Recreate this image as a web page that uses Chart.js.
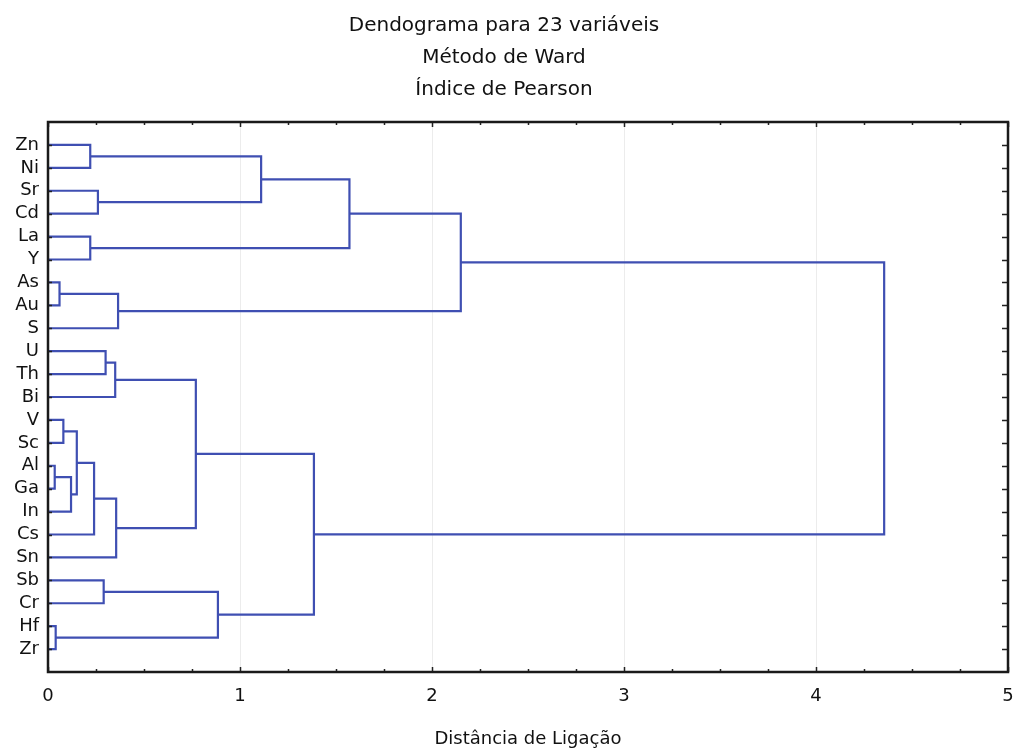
<!DOCTYPE html>
<html>
<head>
<meta charset="utf-8">
<script src="https://cdn.jsdelivr.net/npm/chart.js@4.4.1/dist/chart.umd.min.js"></script>
<style>
  html, body { margin: 0; padding: 0; background: #fff; }
  #wrap { width: 1015px; height: 751px; }
</style>
</head>
<body>
<div id="wrap"><canvas id="dendro"></canvas></div>
<script>
// leaves, top to bottom
const leaves = ['Zn', 'Ni', 'Sr', 'Cd', 'La', 'Y', 'As', 'Au', 'S', 'U', 'Th', 'Bi',
                'V', 'Sc', 'Al', 'Ga', 'In', 'Cs', 'Sn', 'Sb', 'Cr', 'Hf', 'Zr'];

// merges: node ids 0..22 are leaves, 23.. are the merges below in order
const mergeLeft   = [0, 2, 4, 6, 9, 12, 14, 21, 29, 28, 32, 19, 27, 33, 26, 35, 34, 23, 38, 40, 42, 43];
const mergeRight  = [1, 3, 5, 7, 10, 13, 15, 22, 16, 31, 17, 20, 11, 18, 8, 36, 30, 24, 39, 25, 37, 41];
const mergeHeight = [0.22, 0.26, 0.22, 0.06, 0.30, 0.08, 0.035, 0.04, 0.12, 0.15, 0.24, 0.29,
                     0.35, 0.355, 0.365, 0.77, 0.885, 1.11, 1.385, 1.57, 2.15, 4.355];

const xTicks = [0, 1, 2, 3, 4, 5];
const titleLines = ['Dendograma para 23 variáveis', 'Método de Ward', 'Índice de Pearson'];
const xTitle = 'Distância de Ligação';

const lineColor = '#3f4fb2';
const textColor = '#111';
const fontFam = "'DejaVu Sans', 'Liberation Sans', Arial, sans-serif";

// node positions (y = leaf slot, x = height)
let nodeY = leaves.map((l, i) => i);
let nodeH = leaves.map(() => 0);
let datasets = [];
for (let k = 0; k < mergeHeight.length; k++) {
    let a = mergeLeft[k], b = mergeRight[k], h = mergeHeight[k];
    datasets.push({
        data: [
            {x: nodeH[a], y: nodeY[a]},
            {x: h, y: nodeY[a]},
            {x: h, y: nodeY[b]},
            {x: nodeH[b], y: nodeY[b]}
        ],
        showLine: true,
        borderColor: lineColor,
        borderWidth: 2.2,
        pointRadius: 0,
        fill: false,
        tension: 0
    });
    nodeY.push((nodeY[a] + nodeY[b]) / 2);
    nodeH.push(h);
}

// frame + inward tick marks on all four sides
const frameTicks = {
    id: 'frameTicks',
    afterDatasetsDraw(chart) {
        const ctx = chart.ctx;
        const a = chart.chartArea;
        const xs = chart.scales.x, ys = chart.scales.y;
        ctx.save();
        ctx.strokeStyle = '#222';
        ctx.lineWidth = 1.5;
        ctx.beginPath();
        for (let v = 0; v <= 5.001; v += 0.25) {
            let px = Math.round(xs.getPixelForValue(v)) + 0.5;
            let len = Math.abs(v - Math.round(v)) < 0.01 ? 5 : 3;
            ctx.moveTo(px, a.bottom); ctx.lineTo(px, a.bottom - len);
            ctx.moveTo(px, a.top); ctx.lineTo(px, a.top + len);
        }
        for (let i = 0; i < leaves.length; i++) {
            let py = Math.round(ys.getPixelForValue(i)) + 0.5;
            ctx.moveTo(a.left, py); ctx.lineTo(a.left + 4, py);
            ctx.moveTo(a.right, py); ctx.lineTo(a.right - 6, py);
        }
        ctx.stroke();
        ctx.lineWidth = 2.5;
        ctx.strokeStyle = '#1a1a1a';
        ctx.strokeRect(a.left, a.top, a.right - a.left, a.bottom - a.top);
        ctx.restore();
    }
};

new Chart(document.getElementById('dendro'), {
    type: 'scatter',
    data: { datasets: datasets },
    options: {
        responsive: true,
        maintainAspectRatio: false,
        animation: false,
        layout: { padding: { left: 0, right: 7, top: 0, bottom: 0 } },
        plugins: {
            legend: { display: false },
            tooltip: { enabled: false },
            title: {
                display: true,
                text: titleLines,
                color: textColor,
                font: { family: fontFam, size: 20, weight: 'normal', lineHeight: '32px' },
                padding: { top: 10, bottom: 16 }
            }
        },
        scales: {
            x: {
                type: 'linear',
                min: 0,
                max: 5,
                afterBuildTicks: function(scale) {
                    scale.ticks = xTicks.map(v => ({ value: v }));
                },
                afterFit: function(scale) {
                    scale.height = 79;
                    scale.paddingLeft = 0;
                    scale.paddingRight = 0;
                },
                ticks: {
                    color: textColor,
                    font: { family: fontFam, size: 18 },
                    padding: 14,
                    maxRotation: 0
                },
                grid: {
                    color: '#ececec',
                    lineWidth: 1,
                    drawTicks: false
                },
                border: { display: false },
                title: {
                    display: true,
                    text: xTitle,
                    color: textColor,
                    font: { family: fontFam, size: 18 },
                    padding: { top: 0, bottom: 1 }
                }
            },
            y: {
                type: 'linear',
                reverse: true,
                min: -1,
                max: 23,
                afterBuildTicks: function(scale) {
                    scale.ticks = leaves.map((l, i) => ({ value: i }));
                },
                afterFit: function(scale) {
                    scale.width = 48;
                    scale.paddingTop = 0;
                    scale.paddingBottom = 0;
                },
                ticks: {
                    color: textColor,
                    font: { family: fontFam, size: 18 },
                    padding: 9,
                    autoSkip: false,
                    callback: function(value) { return leaves[value]; }
                },
                grid: { display: false, drawTicks: false },
                border: { display: false }
            }
        }
    },
    plugins: [frameTicks]
});
</script>
</body>
</html>
